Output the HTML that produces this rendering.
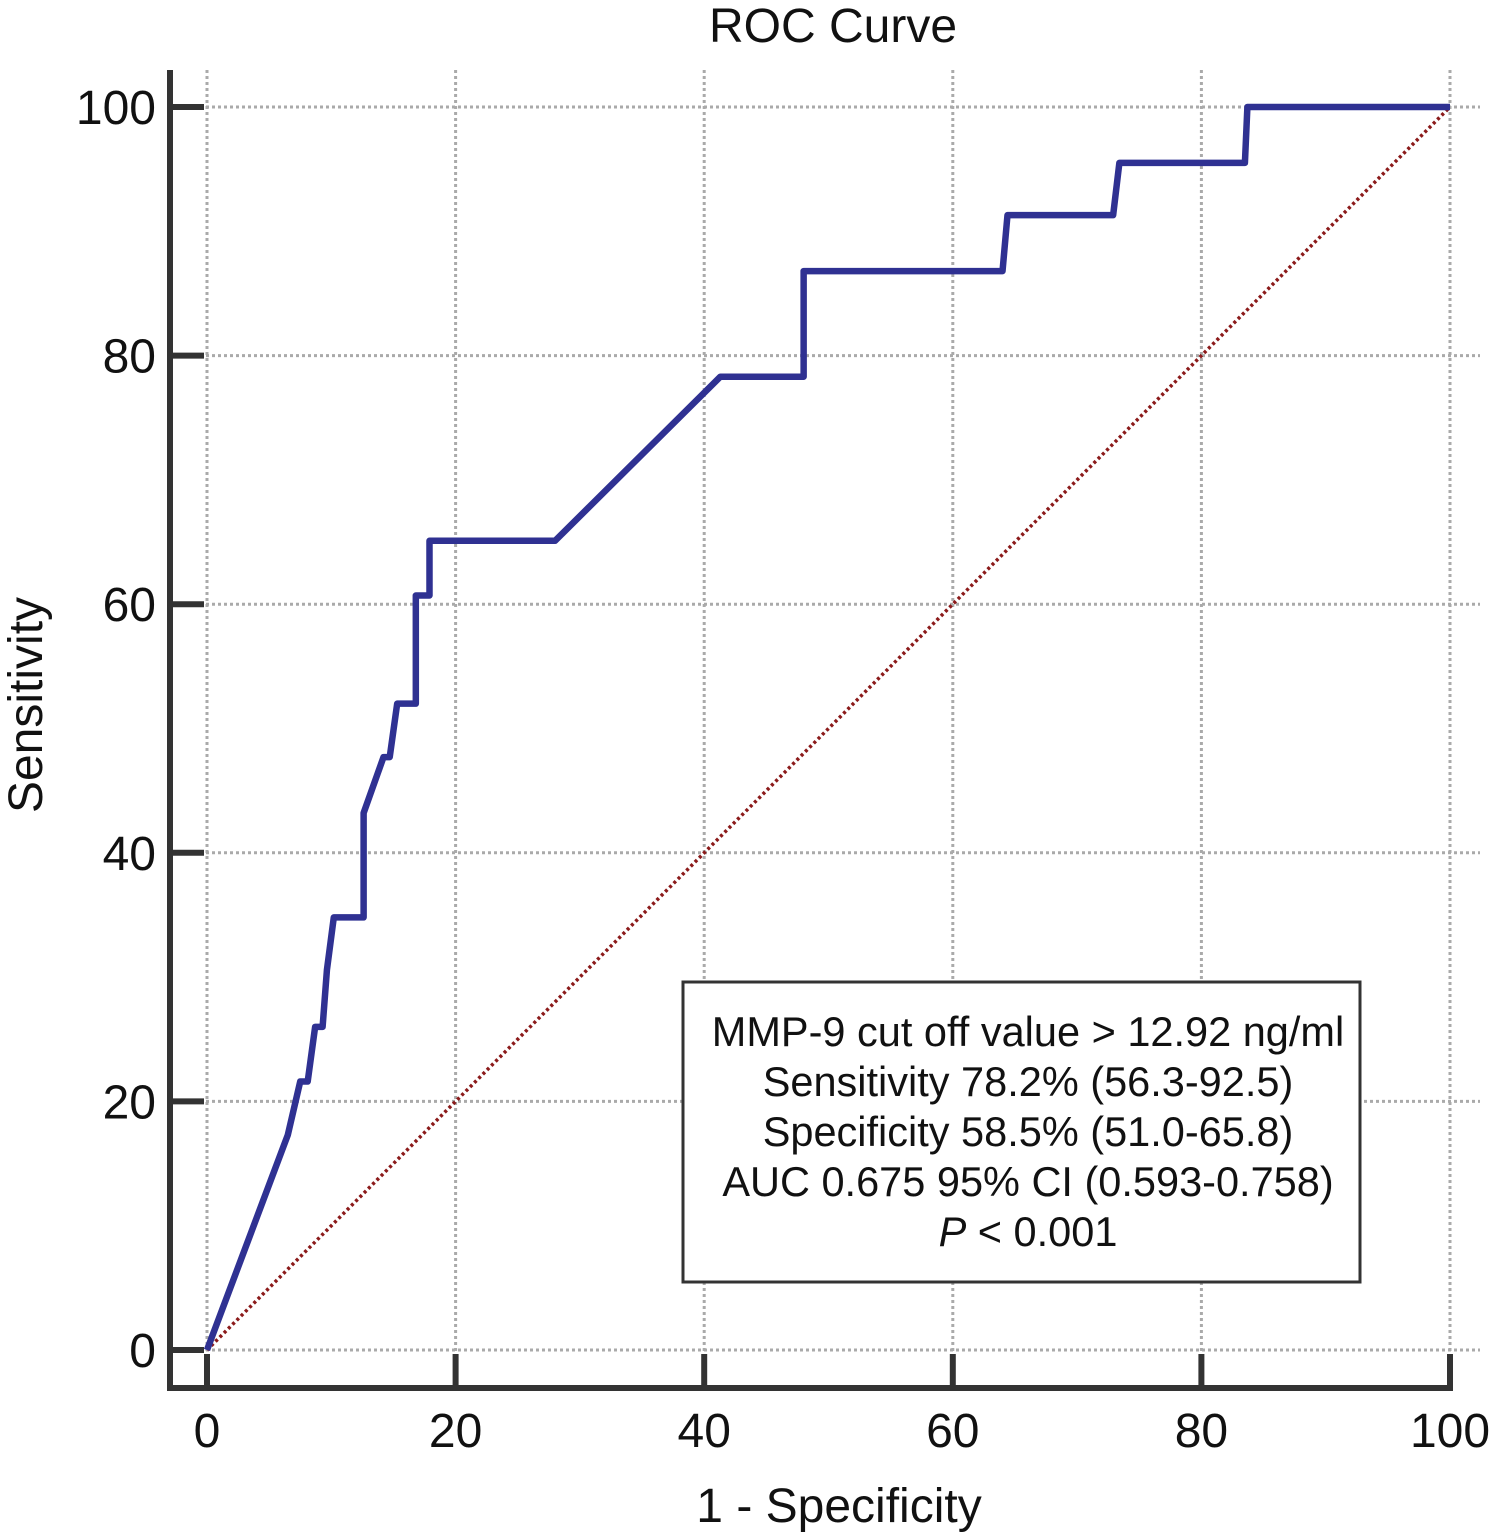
<!DOCTYPE html>
<html><head><meta charset="utf-8"><style>
html,body{margin:0;padding:0;background:#fff;}
svg{display:block;font-family:"Liberation Sans",Arial,sans-serif;}
</style></head><body>
<svg id="chart" width="1493" height="1534" viewBox="0 0 1493 1534">
<text x="833" y="42" font-size="48" text-anchor="middle" fill="#111">ROC Curve</text>
<g id="grid"></g>
<g id="axes"></g>
<line id="diag" stroke="#8b1a1a" stroke-width="3.5" stroke-dasharray="3,3"/>
<polyline id="curve" fill="none" stroke="#2f3192" stroke-width="6.5" stroke-linejoin="round"/>
<g>
<rect x="683" y="982" width="677" height="300" fill="#fff" stroke="#333" stroke-width="3"/>
<g font-size="41.5" text-anchor="middle" fill="#111">
<text x="1028" y="1046">MMP-9 cut off value &gt; 12.92 ng/ml</text>
<text x="1028" y="1096">Sensitivity 78.2% (56.3-92.5)</text>
<text x="1028" y="1146">Specificity 58.5% (51.0-65.8)</text>
<text x="1028" y="1196">AUC 0.675 95% CI (0.593-0.758)</text>
<text x="1028" y="1246"><tspan font-style="italic">P</tspan> &lt; 0.001</text>
</g></g>
<text x="839" y="1522" font-size="48" text-anchor="middle" fill="#111">1 - Specificity</text>
<text transform="translate(42,705) rotate(-90)" font-size="48" text-anchor="middle" fill="#111">Sensitivity</text>
</svg>
<script>
const fpr = [0,6.5,7.5,8.1,8.7,9.3,9.65,10.2,12.6,12.6,14.2,14.7,15.3,16.8,16.8,17.9,17.9,28,41.3,48,48,64,64.4,72.9,73.4,83.5,83.7,100];
const tpr = [0,17.3,21.6,21.6,26,26,30.6,34.8,34.8,43.2,47.7,47.7,52,52,60.7,60.7,65.1,65.1,78.3,78.3,86.8,86.8,91.3,91.3,95.5,95.5,100,100];
const ticks = [0,20,40,60,80,100];
const NS="http://www.w3.org/2000/svg";
const X=v=>207+v*12.43, Y=v=>1350-v*12.43;
const grid=document.getElementById('grid'), axes=document.getElementById('axes');
function mk(tag,attrs,parent){const e=document.createElementNS(NS,tag);for(const k in attrs)e.setAttribute(k,attrs[k]);parent.appendChild(e);return e;}
ticks.forEach(t=>{
  let g=mk('line',{x1:X(t),x2:X(t),y1:70,y2:1388,stroke:'#aaa','stroke-width':3,'stroke-dasharray':'3,3'},grid);
  
  
  g=mk('line',{x1:170,x2:1480,y1:Y(t),y2:Y(t),stroke:'#aaa','stroke-width':3,'stroke-dasharray':'3,3'},grid);
  
  
  let tk=mk('line',{x1:X(t),x2:X(t),y1:1354,y2:1388,stroke:'#333','stroke-width':6},axes);
  
  
  tk=mk('line',{x1:170,x2:204,y1:Y(t),y2:Y(t),stroke:'#333','stroke-width':6},axes);
  
  
  let l=mk('text',{x:X(t),y:1447,'font-size':48,'text-anchor':'middle',fill:'#111'},axes);l.textContent=t;
  
  
  l=mk('text',{x:156,y:Y(t)+17,'font-size':48,'text-anchor':'end',fill:'#111'},axes);l.textContent=t;
  
  
});
let ax=mk('line',{x1:170,x2:170,y1:70,y2:1390,stroke:'#333','stroke-width':6},axes);


ax=mk('line',{x1:167,x2:1453,y1:1388,y2:1388,stroke:'#333','stroke-width':6},axes);


const d=document.getElementById('diag');
d.setAttribute('x1',X(0));d.setAttribute('y1',Y(0));d.setAttribute('x2',X(100));d.setAttribute('y2',Y(100));
document.getElementById('curve').setAttribute('points',fpr.map((f,i)=>X(f)+','+Y(tpr[i])).join(' '));
</script>
</body></html>
